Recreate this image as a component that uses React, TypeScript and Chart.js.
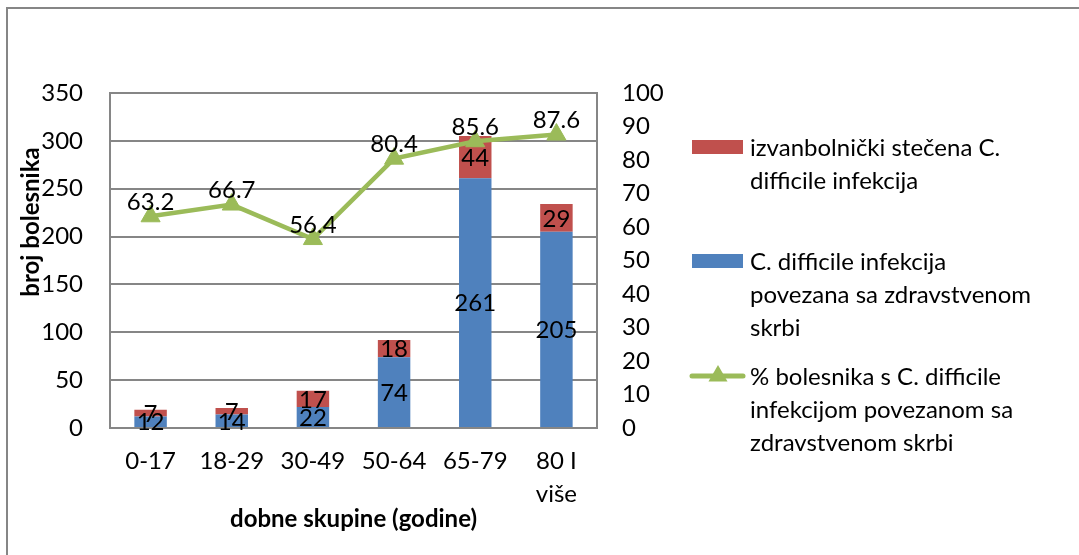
import React, { useEffect, useRef } from "react";
import { Chart, registerables } from "chart.js";

Chart.register(...registerables);

const categories: (string | string[])[] = ["0-17", "18-29", "30-49", "50-64", "65-79", ["80 I", "više"]];
const healthcareValues = [12, 14, 22, 74, 261, 205];
const communityValues = [7, 7, 17, 18, 44, 29];
const percentValues = [63.2, 66.7, 56.4, 80.4, 85.6, 87.6];

const leftAxis = { min: 0, max: 350, step: 50 };
const rightAxis = { min: 0, max: 100, step: 10 };

const seriesNames = [
  "izvanbolnički stečena C. difficile infekcija",
  "C. difficile infekcija povezana sa zdravstvenom skrbi",
  "% bolesnika s C. difficile infekcijom povezanom sa zdravstvenom skrbi",
];
const legendLines = [
  ["izvanbolnički stečena C.", "difficile infekcija"],
  ["C. difficile infekcija", "povezana sa zdravstvenom", "skrbi"],
  ["% bolesnika s C. difficile", "infekcijom povezanom sa", "zdravstvenom skrbi"],
];
const yTitle = "broj bolesnika";
const xTitle = "dobne skupine (godine)";

const BLUE = "#4F81BD";
const RED = "#C0504D";
const GREEN = "#9BBB59";
const GRID = "#868686";
const FONT = "Lato";
const FS = 24;

const customPlugin = {
  id: "custom",
  beforeDraw(chart: any) {
    const ctx = chart.ctx;
    ctx.save();
    ctx.fillStyle = "#fff";
    ctx.fillRect(0, 0, chart.width, chart.height);
    ctx.strokeStyle = GRID;
    ctx.lineWidth = 2;
    ctx.beginPath();
    ctx.moveTo(7, chart.height);
    ctx.lineTo(7, 8);
    ctx.lineTo(chart.width, 8);
    ctx.stroke();
    ctx.restore();
  },
  afterDatasetsDraw(chart: any) {
    const ctx = chart.ctx;
    ctx.save();
    ctx.font = `${FS}px ${FONT}`;
    ctx.fillStyle = "#000";
    ctx.textAlign = "center";
    ctx.textBaseline = "middle";
    chart.data.datasets.forEach((ds: any, di: number) => {
      const meta = chart.getDatasetMeta(di);
      meta.data.forEach((el: any, i: number) => {
        const v = ds.data[i];
        if (ds.type === "line") {
          ctx.fillText(String(v), el.x, el.y - 14);
        } else {
          ctx.fillText(String(v), el.x, (el.y + el.base) / 2 + 1);
        }
      });
    });
    ctx.restore();
  },
  afterDraw(chart: any) {
    const ctx = chart.ctx;
    const area = chart.chartArea;
    ctx.save();
    // axis titles
    ctx.fillStyle = "#000";
    ctx.font = `bold ${FS}px ${FONT}`;
    ctx.textAlign = "center";
    ctx.textBaseline = "middle";
    ctx.fillText(xTitle, (area.left + area.right) / 2, 519);
    ctx.save();
    ctx.translate(31, 222);
    ctx.rotate(-Math.PI / 2);
    ctx.fillText(yTitle, 0, 0);
    ctx.restore();

    // legend
    ctx.font = `${FS}px ${FONT}`;
    ctx.textAlign = "left";
    const starts = [147, 261, 376];
    const lh = 33;
    const textX = 750;
    const colors = [RED, BLUE];
    for (let k = 0; k < 3; k++) {
      const y0 = starts[k];
      if (k < 2) {
        ctx.fillStyle = colors[k];
        ctx.fillRect(692, y0 - 7, 51, 14);
      } else {
        ctx.strokeStyle = GREEN;
        ctx.lineWidth = 5;
        ctx.lineCap = "round";
        ctx.beginPath();
        ctx.moveTo(692, y0);
        ctx.lineTo(743, y0);
        ctx.stroke();
        ctx.fillStyle = GREEN;
        const r = 11;
        ctx.beginPath();
        ctx.moveTo(718, y0 - r);
        ctx.lineTo(718 + r * 0.866, y0 + r * 0.5);
        ctx.lineTo(718 - r * 0.866, y0 + r * 0.5);
        ctx.closePath();
        ctx.fill();
      }
      ctx.fillStyle = "#000";
      legendLines[k].forEach((line, j) => {
        ctx.fillText(line, textX, y0 + j * lh + 1);
      });
    }
    ctx.restore();
  },
};

export default function App() {
  const ref = useRef<HTMLCanvasElement>(null);
  useEffect(() => {
    if (!ref.current) return;
    Chart.defaults.font.family = FONT;
    Chart.defaults.font.size = FS;
    Chart.defaults.color = "#000";
    const chart = new Chart(ref.current, {
      type: "bar",
      data: {
        labels: categories as any,
        datasets: [
          {
            type: "line",
            label: seriesNames[2],
            data: percentValues,
            yAxisID: "y1",
            borderColor: GREEN,
            backgroundColor: GREEN,
            borderWidth: 4.5,
            pointStyle: "triangle",
            pointRadius: 11,
            pointBorderWidth: 1,
            pointBackgroundColor: GREEN,
            pointBorderColor: GREEN,
            tension: 0,
            order: 0,
          } as any,
          {
            type: "bar",
            label: seriesNames[1],
            data: healthcareValues,
            backgroundColor: BLUE,
            yAxisID: "y",
            stack: "s",
            barPercentage: 0.4,
            categoryPercentage: 1,
            order: 1,
          },
          {
            type: "bar",
            label: seriesNames[0],
            data: communityValues,
            backgroundColor: RED,
            yAxisID: "y",
            stack: "s",
            barPercentage: 0.4,
            categoryPercentage: 1,
            order: 1,
          },
        ],
      },
      options: {
        animation: false,
        responsive: false,
        devicePixelRatio: 1,
        layout: { padding: { left: 0, top: 93, right: 402, bottom: 0 } },
        plugins: { legend: { display: false }, tooltip: { enabled: false } },
        scales: {
          x: {
            stacked: true,
            grid: { display: false, drawTicks: false },
            border: { display: true, color: GRID, width: 2 },
            ticks: {
              padding: 17,
              font: { size: FS, lineHeight: 33 / FS },
              color: "#000",
              maxRotation: 0,
              autoSkip: false,
            },
            afterFit: (s: any) => {
              s.height = 127;
            },
          },
          y: {
            stacked: true,
            position: "left",
            min: leftAxis.min,
            max: leftAxis.max,
            grid: { color: GRID, lineWidth: 2, drawTicks: false },
            border: { display: true, color: GRID, width: 2 },
            ticks: { stepSize: leftAxis.step, padding: 27, color: "#000", font: { size: FS } },
            afterFit: (s: any) => {
              s.width = 110;
            },
          },
          y1: {
            position: "right",
            min: rightAxis.min,
            max: rightAxis.max,
            grid: { display: false, drawTicks: false },
            border: { display: true, color: GRID, width: 2 },
            ticks: { stepSize: rightAxis.step, padding: 25, color: "#000", font: { size: FS } },
            afterFit: (s: any) => {
              s.width = 80;
            },
          },
        },
      },
      plugins: [customPlugin],
    });
    return () => chart.destroy();
  }, []);
  return (
    <div style={{ position: "fixed", left: 0, top: 0, width: 1079, height: 555 }}>
      <canvas ref={ref} width={1079} height={555} style={{ display: "block" }} />
    </div>
  );
}
